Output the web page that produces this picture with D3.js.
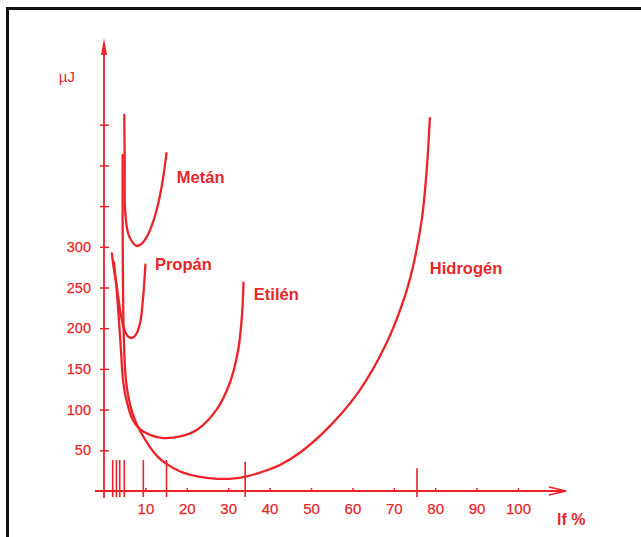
<!DOCTYPE html>
<html>
<head>
<meta charset="utf-8">
<script src="https://cdn.jsdelivr.net/npm/d3@7"></script>
<style>
  html, body { margin: 0; padding: 0; background: #fff; }
  svg { display: block; }
  text { font-family: "Liberation Sans", Arial, sans-serif; fill: #e8262b; }
</style>
</head>
<body>
<svg id="chart" width="641" height="537"></svg>
<script>
(function () {
  "use strict";

  // ignition energy curves, [gas %, µJ]
  const metan = [[4.9, 462], [5.0, 407], [5.1, 345], [5.8, 317], [6.8, 306], [7.9, 301], [8.9, 303],
    [10.3, 312], [11.6, 327], [12.7, 345], [14.0, 376], [15.1, 415]];
  const propan = [[1.9, 292], [2.4, 272], [3.1, 251], [3.9, 222], [4.8, 200], [5.8, 190], [6.8, 188],
    [7.7, 192], [8.7, 206], [9.4, 235], [10.0, 278]];
  const etilen = [[2.4, 281], [3.1, 245], [3.6, 210], [4.1, 173], [4.6, 136], [5.6, 108], [7.0, 87],
    [8.7, 76], [11.1, 69], [14.3, 65], [18.4, 67], [22.4, 75], [27.2, 100], [30.4, 133], [32.4, 173],
    [33.3, 214], [33.7, 256]];
  const hidrogen = [[4.5, 413], [4.5, 333], [4.6, 247], [4.8, 186], [5.3, 136], [6.3, 106], [7.5, 87],
    [8.7, 74], [11.1, 54], [13.0, 42], [15.2, 33], [18.4, 24], [22.5, 18], [27.3, 15], [31.6, 15.5],
    [34.5, 18], [38.5, 24], [42.5, 32], [47.3, 47], [54.6, 80], [61.8, 124], [67.9, 178], [72.2, 232],
    [74.6, 275], [76.8, 335], [78.0, 398], [78.7, 458]];

  const seriesNames = ["Metán", "Propán", "Etilén", "Hidrogén"];
  const seriesLabelAt = [[17.6, 378], [12.3, 271], [36.2, 235], [78.7, 267]];

  // flammability limit marks on the x axis
  const limitValues = [2.1, 3.0, 3.8, 4.9, 9.5, 15.1, 34.1, 75.6];
  const limitHeights = [38, 38, 38, 38, 38, 38, 36, 28];

  const xTicks = [10, 20, 30, 40, 50, 60, 70, 80, 90, 100];
  const yTicks = [50, 100, 150, 200, 250, 300, 350, 400, 450];
  const yLabelMax = 300;

  const RED = "#ee2229";

  const svg = d3.select("#chart");

  // frame
  svg.append("path")
    .attr("d", "M7.5,537 L7.5,8.5 L641,8.5")
    .attr("fill", "none")
    .attr("stroke", "#111")
    .attr("stroke-width", 3);

  const x = d3.scaleLinear().domain([0, 100]).range([104, 518]);
  const y = d3.scaleLinear().domain([0, 500]).range([491, 84]);

  // y axis
  const yAxis = svg.append("g")
    .attr("transform", `translate(${x(0)},0)`)
    .call(d3.axisLeft(y).tickValues(yTicks).tickSize(4).tickPadding(9)
      .tickFormat((d) => (d <= yLabelMax ? d : "")));
  yAxis.select(".domain").remove();
  yAxis.selectAll(".tick line").attr("x1", 5).attr("stroke", RED).attr("stroke-width", 1.5);
  yAxis.selectAll(".tick text").attr("font-size", 14.5).attr("fill", "#e8262b")
    .attr("stroke", "#e8262b").attr("stroke-width", 0.25);

  svg.append("line")
    .attr("x1", x(0)).attr("x2", x(0))
    .attr("y1", y(0) + 7).attr("y2", 50)
    .attr("stroke", RED).attr("stroke-width", 1.8);
  svg.append("path")
    .attr("d", `M${x(0)},38 L${x(0) - 3},55 L${x(0) + 3},55 Z`)
    .attr("fill", RED);

  // x axis
  const xAxis = svg.append("g")
    .attr("transform", `translate(0,${y(0)})`)
    .call(d3.axisBottom(x).tickValues(xTicks).tickSize(-3).tickPadding(12));
  xAxis.select(".domain").remove();
  xAxis.selectAll(".tick line").attr("y1", 1).attr("stroke", RED).attr("stroke-width", 1.5);
  xAxis.selectAll(".tick text").attr("font-size", 15).attr("fill", "#e8262b")
    .attr("stroke", "#e8262b").attr("stroke-width", 0.25);

  svg.append("line")
    .attr("x1", 95).attr("x2", 566)
    .attr("y1", y(0)).attr("y2", y(0))
    .attr("stroke", RED).attr("stroke-width", 1.8);
  svg.append("path")
    .attr("d", `M549,${y(0) - 4} L566,${y(0)} L549,${y(0) + 4}`)
    .attr("fill", "none")
    .attr("stroke", RED)
    .attr("stroke-width", 1.5);

  // limit marks
  svg.selectAll("line.limit")
    .data(limitValues)
    .enter()
    .append("line")
    .attr("class", "limit")
    .attr("x1", (d) => x(d)).attr("x2", (d) => x(d))
    .attr("y1", (d, i) => y(limitHeights[i]))
    .attr("y2", y(0) + 6)
    .attr("stroke", RED)
    .attr("stroke-width", 1.6);

  // curves
  const line = d3.line()
    .x((d) => x(d[0]))
    .y((d) => y(d[1]))
    .curve(d3.curveCatmullRom.alpha(0.5));

  svg.selectAll("path.curve")
    .data([metan, propan, etilen, hidrogen])
    .enter()
    .append("path")
    .attr("class", "curve")
    .attr("d", line)
    .attr("fill", "none")
    .attr("stroke", RED)
    .attr("stroke-width", 2.3)
    .attr("stroke-linecap", "round");

  svg.selectAll("text.name")
    .data(seriesNames)
    .enter()
    .append("text")
    .attr("class", "name")
    .attr("x", (d, i) => x(seriesLabelAt[i][0]))
    .attr("y", (d, i) => y(seriesLabelAt[i][1]))
    .attr("font-size", 16.5)
    .attr("font-weight", "bold")
    .text((d) => d);

  svg.append("text")
    .attr("x", 75).attr("y", 82)
    .attr("text-anchor", "end")
    .attr("font-size", 15)
    .text("µJ");

  svg.append("text")
    .attr("x", 557).attr("y", 525)
    .attr("font-size", 16)
    .attr("font-weight", "bold")
    .text("lf %");
})();
</script>
</body>
</html>
